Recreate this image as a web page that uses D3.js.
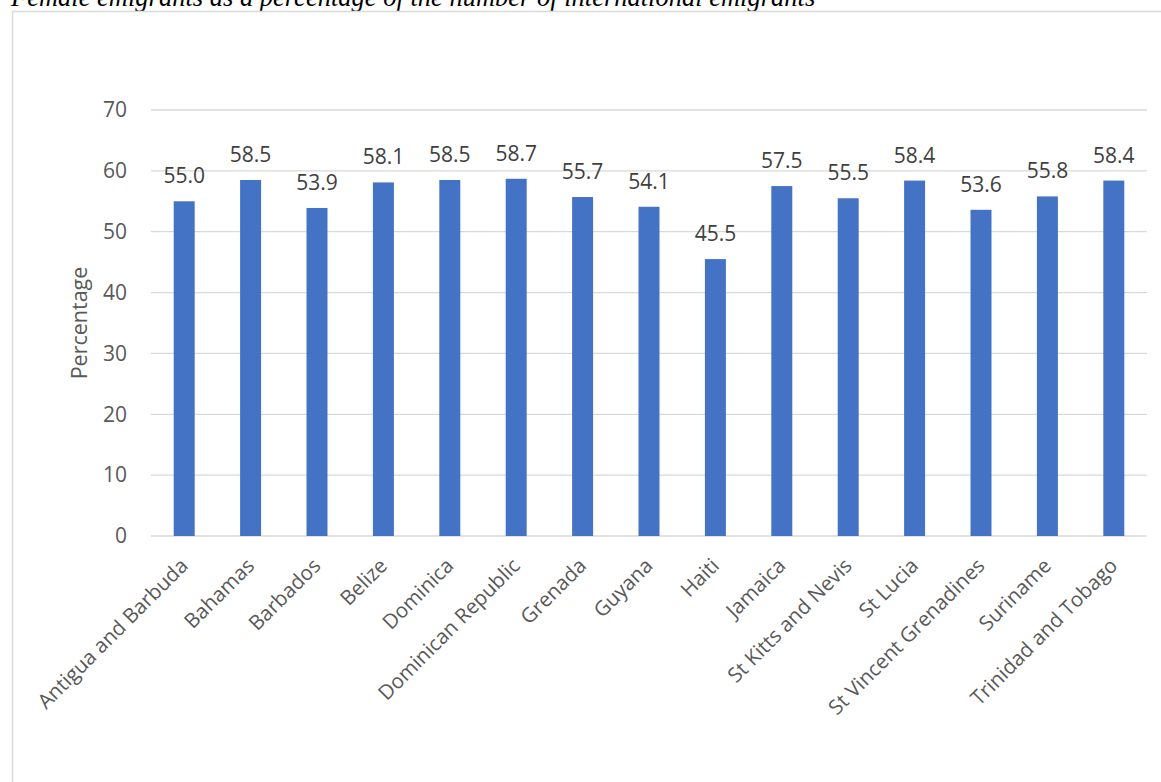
<!DOCTYPE html>
<html>
<head>
<meta charset="utf-8">
<script src="https://cdn.jsdelivr.net/npm/d3@7"></script>
<style>
  html, body { margin: 0; padding: 0; background: #fff; }
  svg { display: block; }
</style>
</head>
<body>
<svg id="chart" width="1161" height="782"></svg>
<script>
// Female share of international emigrants, by country of origin
const countries = [
  "Antigua and Barbuda", "Bahamas", "Barbados", "Belize", "Dominica",
  "Dominican Republic", "Grenada", "Guyana", "Haiti", "Jamaica",
  "St Kitts and Nevis", "St Lucia", "St Vincent Grenadines", "Suriname",
  "Trinidad and Tobago"
];
const femaleShare = [55.0, 58.5, 53.9, 58.1, 58.5, 58.7, 55.7, 54.1, 45.5, 57.5, 55.5, 58.4, 53.6, 55.8, 58.4];
const yTicks = [0, 10, 20, 30, 40, 50, 60, 70];
const titleText = "Female emigrants as a percentage of the number of international emigrants";
const yAxisTitle = "Percentage";

const svg = d3.select("#chart");
const W = 1161, H = 782;
const font = "'Open Sans', 'Noto Sans', sans-serif";
const grey = "#595959";

// Caption above the chart frame
svg.append("text")
  .attr("x", 11).attr("y", 6)
  .attr("font-family", "'Liberation Serif', 'Times New Roman', serif")
  .attr("font-style", "italic")
  .attr("font-size", 26.5)
  .attr("fill", "#000")
  .text(titleText);

// Chart frame
svg.append("rect")
  .attr("x", 12.5).attr("y", 11.5)
  .attr("width", W + 10).attr("height", H + 10)
  .attr("fill", "none")
  .attr("stroke", "#d9d9d9")
  .attr("stroke-width", 1.5);

const plot = { left: 151, right: 1147, top: 110, bottom: 536 };

const x = d3.scaleBand()
  .domain(countries)
  .range([plot.left, plot.right])
  .paddingInner(0.684)
  .paddingOuter(0.342);

const y = d3.scaleLinear()
  .domain([0, 70])
  .range([plot.bottom, plot.top]);

// Gridlines
svg.append("g")
  .selectAll("line")
  .data(yTicks)
  .join("line")
  .attr("x1", plot.left).attr("x2", plot.right)
  .attr("y1", d => y(d)).attr("y2", d => y(d))
  .attr("stroke", "#d9d9d9")
  .attr("stroke-width", 1.3);

// Y axis labels
const yAxis = svg.append("g")
  .attr("transform", `translate(${plot.left},0)`)
  .call(d3.axisLeft(y).tickValues(yTicks).tickSize(0).tickPadding(24));
yAxis.select(".domain").remove();
yAxis.selectAll("text")
  .attr("font-family", font)
  .attr("font-size", 21)
  .attr("fill", grey);

// Bars
svg.append("g")
  .selectAll("rect")
  .data(femaleShare)
  .join("rect")
  .attr("x", (d, i) => x(countries[i]))
  .attr("y", d => y(d))
  .attr("width", x.bandwidth())
  .attr("height", d => y(0) - y(d))
  .attr("fill", "#4472c4");

// Value labels
svg.append("g")
  .selectAll("text")
  .data(femaleShare)
  .join("text")
  .attr("x", (d, i) => x(countries[i]) + x.bandwidth() / 2)
  .attr("y", d => y(d) - 18)
  .attr("text-anchor", "middle")
  .attr("font-family", font)
  .attr("font-size", 21)
  .attr("fill", "#404040")
  .text(d => d.toFixed(1));

// Category labels, rotated
const xAxis = svg.append("g")
  .attr("transform", `translate(0,${plot.bottom})`)
  .call(d3.axisBottom(x).tickSize(0).tickPadding(0));
xAxis.select(".domain").remove();
xAxis.selectAll("text")
  .attr("font-family", font)
  .attr("font-size", 20.5)
  .attr("fill", grey)
  .attr("text-anchor", "end")
  .attr("dy", null)
  .attr("y", 0)
  .attr("transform", "translate(5,31) rotate(-45)");

// Y axis title
svg.append("text")
  .attr("transform", `translate(87,323) rotate(-90)`)
  .attr("text-anchor", "middle")
  .attr("font-family", font)
  .attr("font-size", 21.5)
  .attr("fill", grey)
  .text(yAxisTitle);
</script>
</body>
</html>
